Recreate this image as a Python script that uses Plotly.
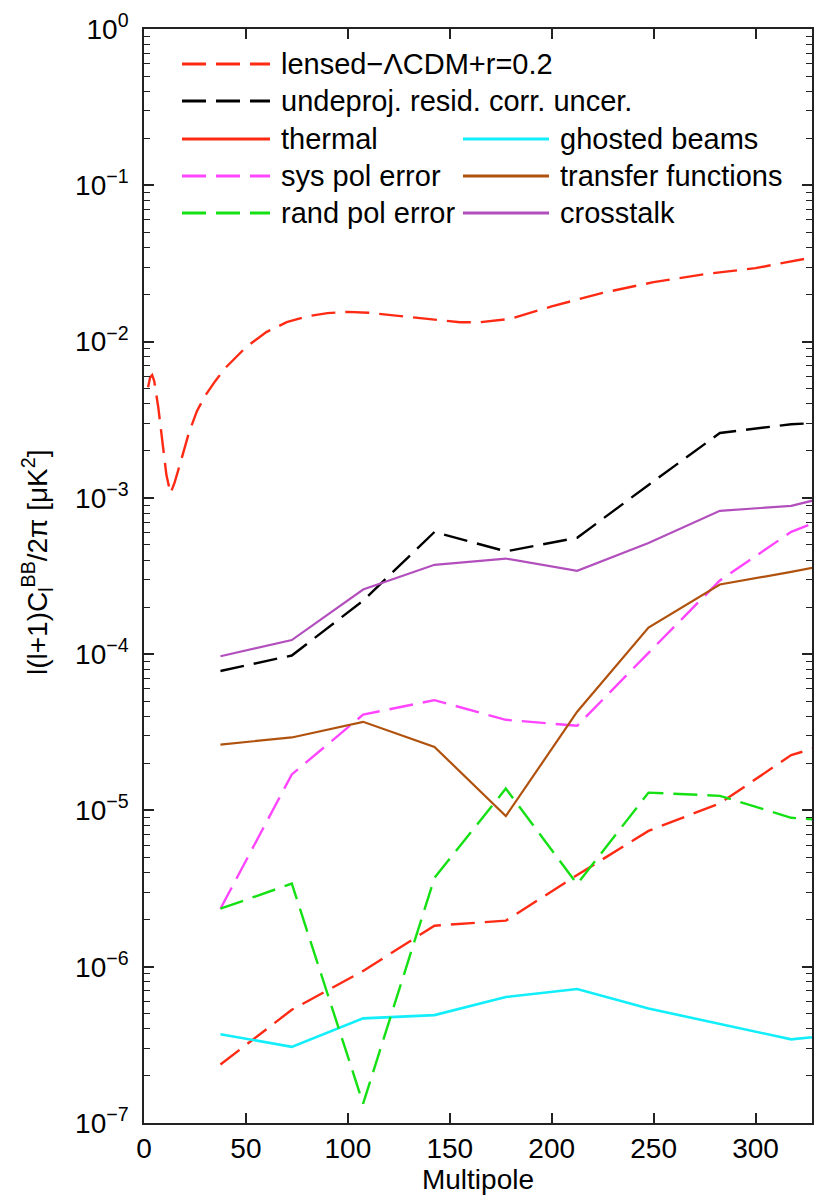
import plotly.graph_objects as go

# ---------------- data ----------------
ell_bins = [37.5, 72.5, 107.5, 142.5, 177.5, 212.5, 247.5, 282.5, 317.5, 352.5]

undeproj = [7.8e-5, 9.8e-5, 2.2e-4, 6.05e-4, 4.55e-4, 5.55e-4, 1.21e-3, 2.6e-3, 2.96e-3, 3.1e-3]
thermal = [2.37e-7, 5.3e-7, 9.4e-7, 1.83e-6, 1.97e-6, 3.86e-6, 7.4e-6, 1.11e-5, 2.26e-5, 3.1e-5]
ghosted_beams = [3.7e-7, 3.07e-7, 4.67e-7, 4.9e-7, 6.4e-7, 7.2e-7, 5.4e-7, 4.3e-7, 3.43e-7, 3.8e-7]
sys_pol = [2.35e-6, 1.7e-5, 4.1e-5, 5.08e-5, 3.8e-5, 3.48e-5, 1.02e-4, 2.96e-4, 6.06e-4, 9.2e-4]
transfer_fn = [2.64e-5, 2.93e-5, 3.69e-5, 2.55e-5, 9.2e-6, 4.28e-5, 1.48e-4, 2.79e-4, 3.36e-4, 4.1e-4]
rand_pol = [2.35e-6, 3.4e-6, 1.33e-7, 3.7e-6, 1.38e-5, 3.38e-6, 1.30e-5, 1.24e-5, 8.97e-6, 8.3e-6]
crosstalk = [9.7e-5, 1.23e-4, 2.59e-4, 3.73e-4, 4.09e-4, 3.41e-4, 5.15e-4, 8.26e-4, 8.89e-4, 1.15e-3]

ell_lcdm = [2, 3, 4, 5, 7, 9, 11, 13, 15, 18, 22, 26, 30, 35, 40, 50, 60, 70, 80, 90,
            100, 110, 125, 140, 155, 165, 180, 200, 225, 250, 275, 300, 325, 340]
lcdm_r02 = [5.1e-3, 5.9e-3, 6.1e-3, 5.6e-3, 3.8e-3, 2.3e-3, 1.4e-3, 1.07e-3, 1.25e-3, 1.7e-3,
            2.6e-3, 3.6e-3, 4.5e-3, 5.6e-3, 6.8e-3, 9.2e-3, 1.15e-2, 1.33e-2, 1.45e-2, 1.52e-2,
            1.55e-2, 1.53e-2, 1.46e-2, 1.38e-2, 1.33e-2, 1.33e-2, 1.40e-2, 1.68e-2, 2.05e-2,
            2.40e-2, 2.70e-2, 2.95e-2, 3.4e-2, 3.6e-2]

x_ticks = [0, 50, 100, 150, 200, 250, 300]
y_exps = [0, -1, -2, -3, -4, -5, -6, -7]

# ---------------- styles ----------------
RED = "#FF2A14"
BLACK = "#000000"
CYAN = "#12EEFA"
MAGENTA = "#FF45FF"
GREEN = "#14E014"
BROWN = "#B0520E"
PURPLE = "#B24FBD"
DASH = "24px,10px"
FONT = "Liberation Sans, Arial, Helvetica, sans-serif"

W, H = 815, 1200
L, R, T, B = 144, 812, 29, 1123


def pxx(xp):
    return (xp - L) / (R - L)


def pxy(yp):
    return (B - yp) / (B - T)


fig = go.Figure()


def add(x, y, name, color, dash=None, width=2.4):
    fig.add_trace(go.Scatter(x=x, y=y, mode="lines", name=name, showlegend=False,
                             hoverinfo="skip",
                             line=dict(color=color, width=width, dash=dash or "solid")))


add(ell_lcdm, lcdm_r02, "lensed-ΛCDM+r=0.2", RED, DASH)
add(ell_bins, undeproj, "undeproj. resid. corr. uncer.", BLACK, DASH)
add(ell_bins, thermal, "thermal", RED, DASH)
add(ell_bins, ghosted_beams, "ghosted beams", CYAN, None, 2.6)
add(ell_bins, sys_pol, "sys pol error", MAGENTA, DASH)
add(ell_bins, transfer_fn, "transfer functions", BROWN, None, 2.2)
add(ell_bins, rand_pol, "rand pol error", GREEN, DASH)
add(ell_bins, crosstalk, "crosstalk", PURPLE, None, 2.2)

# ---------------- manual legend (layout) ----------------
legend_items = [
    (182, 270, 64, RED, DASH, 279, "lensed−ΛCDM+r=0.2"),
    (182, 270, 101, BLACK, DASH, 279, "undeproj. resid. corr. uncer."),
    (182, 270, 139, RED, "solid", 279, "thermal"),
    (182, 270, 176, MAGENTA, DASH, 279, "sys pol error"),
    (182, 270, 213, GREEN, DASH, 279, "rand pol error"),
    (463, 549, 139, CYAN, "solid", 558, "ghosted beams"),
    (463, 549, 176, BROWN, "solid", 558, "transfer functions"),
    (463, 549, 213, PURPLE, "solid", 558, "crosstalk"),
]
shapes = []
annotations = []
for x0, x1, yy, col, dsh, tx, lab in legend_items:
    shapes.append(dict(type="line", xref="paper", yref="paper",
                       x0=pxx(x0), x1=pxx(x1), y0=pxy(yy), y1=pxy(yy),
                       line=dict(color=col, width=2.8, dash=dsh)))
    annotations.append(dict(xref="paper", yref="paper", x=pxx(tx), y=pxy(yy),
                            xanchor="left", yanchor="middle", showarrow=False,
                            text=lab, font=dict(family=FONT, size=29, color="black")))

# y-axis title placed as a rotated annotation
annotations.append(dict(xref="paper", yref="paper", x=pxx(37), y=pxy(562),
                        xanchor="center", yanchor="middle", showarrow=False,
                        textangle=-90,
                        text="l(l+1)C<sub>l</sub><sup>BB</sup>/2π [μK<sup>2</sup>]",
                        font=dict(family=FONT, size=28, color="black")))

minor_vals = [k * 10.0 ** e for e in range(-7, 0) for k in range(2, 10)]

fig.update_layout(
    width=W, height=H,
    margin=dict(l=L, r=W - R, t=T, b=H - B, autoexpand=False),
    paper_bgcolor="white", plot_bgcolor="white",
    shapes=shapes, annotations=annotations,
    font=dict(family=FONT, color="black"),
    xaxis=dict(
        range=[0, 327.7], tickmode="array", tickvals=x_ticks,
        ticktext=[str(v) for v in x_ticks],
        ticks="inside", ticklen=10, tickwidth=1.6, tickcolor="#222",
        showline=True, linecolor="#222", linewidth=1.6, mirror="allticks",
        showgrid=False, zeroline=False,
        tickfont=dict(family=FONT, size=28),
        title=dict(text="Multipole", font=dict(family=FONT, size=28), standoff=4),
        automargin=False,
    ),
    yaxis=dict(
        type="log", range=[-7, 0], tickmode="array",
        tickvals=[10.0 ** e for e in y_exps],
        ticktext=["10<sup>%s</sup>" % (str(e).replace("-", "−")) for e in y_exps],
        ticks="inside", ticklen=10, tickwidth=1.6, tickcolor="#222",
        showline=True, linecolor="#222", linewidth=1.6, mirror="allticks",
        showgrid=False, zeroline=False,
        tickfont=dict(family=FONT, size=28),
        ticklabelstandoff=8,
        minor=dict(ticks="inside", ticklen=6, tickwidth=1.4, tickcolor="#222",
                   tickmode="array", tickvals=minor_vals, showgrid=False),
        automargin=False,
    ),
)

fig.write_html("out.html", config={"displayModeBar": False},
               post_script="document.body.style.margin='0px';document.body.style.overflow='hidden';")
